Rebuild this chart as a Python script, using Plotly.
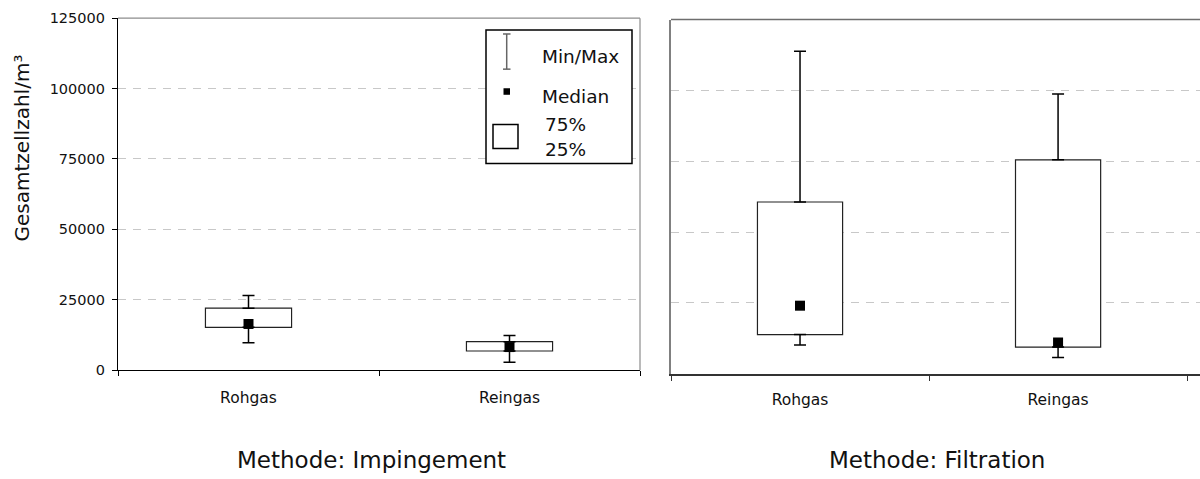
import plotly.graph_objects as go

W, H = 1200, 479

categories = ["Rohgas", "Reingas"]

# Methode: Impingement
imp_min = [9700, 2800]
imp_q1 = [15200, 6800]
imp_median = [16400, 8200]
imp_q3 = [22000, 10100]
imp_max = [26500, 12300]

# Methode: Filtration
fil_min = [10100, 5700]
fil_q1 = [13800, 9400]
fil_median = [24000, 11000]
fil_q3 = [60600, 75500]
fil_max = [113800, 98700]

y_ticks = [0, 25000, 50000, 75000, 100000, 125000]
y_title = "Gesamtzellzahl/m³"
panel_titles = ["Methode: Impingement", "Methode: Filtration"]
legend_labels = ["Min/Max", "Median", "75%", "25%"]

FONT = "DejaVu Sans"

# vertical placement: rows are given from the top edge and spread
# about the middle of the page by ROW_SCALE
ROW_SCALE = 0.9618
MID = H / 2


def px(x):
    return x / W


def py(y):
    row = MID + (y - MID) / ROW_SCALE
    return 1 - row / H


fig = go.Figure()


def add_panel(xa, ya, mins, q1, med, q3, maxs):
    iqr = [b - a for a, b in zip(q1, q3)]
    # interquartile box
    fig.add_trace(go.Bar(
        x=categories, y=iqr, base=q1, width=0.33,
        marker=dict(color="white", line=dict(color="#222222", width=1.2)),
        xaxis=xa, yaxis=ya, showlegend=False, hoverinfo="skip",
    ))
    # upper whisker (Q3 -> max)
    fig.add_trace(go.Scatter(
        x=categories, y=q3, mode="markers",
        marker=dict(color="rgba(0,0,0,0)", size=1),
        error_y=dict(type="data", symmetric=False,
                     array=[m - q for m, q in zip(maxs, q3)],
                     arrayminus=[0] * len(q3),
                     color="black", thickness=1.5, width=6),
        xaxis=xa, yaxis=ya, showlegend=False, hoverinfo="skip",
    ))
    # lower whisker (min -> Q1)
    fig.add_trace(go.Scatter(
        x=categories, y=q1, mode="markers",
        marker=dict(color="rgba(0,0,0,0)", size=1),
        error_y=dict(type="data", symmetric=False,
                     array=[0] * len(q1),
                     arrayminus=[q - m for m, q in zip(mins, q1)],
                     color="black", thickness=1.5, width=6),
        xaxis=xa, yaxis=ya, showlegend=False, hoverinfo="skip",
    ))
    # median
    fig.add_trace(go.Scatter(
        x=categories, y=med, mode="markers",
        marker=dict(symbol="square", size=10, color="black"),
        xaxis=xa, yaxis=ya, showlegend=False, cliponaxis=False,
    ))


add_panel("x", "y", imp_min, imp_q1, imp_median, imp_q3, imp_max)
add_panel("x2", "y2", fil_min, fil_q1, fil_median, fil_q3, fil_max)

grid = dict(showgrid=True, gridcolor="#c8c8c8", griddash="8px,7px", gridwidth=1)
tickfont = dict(family=FONT, size=14.5, color="#111111")
catfont = dict(family=FONT, size=15.5, color="#111111")

fig.update_layout(
    width=W, height=H,
    margin=dict(l=0, r=0, t=0, b=0),
    paper_bgcolor="white", plot_bgcolor="white",
    showlegend=False,
    xaxis=dict(domain=[px(118), px(640)], type="category", range=[-0.5, 1.5],
               showline=True, linecolor="black", linewidth=1.2,
               ticks="outside", ticklen=5, tickcolor="black", tickson="boundaries",
               tickfont=catfont, ticklabelstandoff=13, showgrid=False,
               zeroline=False, fixedrange=True, anchor="y"),
    yaxis=dict(domain=[py(369.5), py(19.3)], range=[0, 125000],
               tickvals=y_ticks, ticktext=[str(v) for v in y_ticks],
               showline=True, linecolor="black", linewidth=1.2,
               ticks="outside", ticklen=5, tickcolor="black",
               tickfont=tickfont, ticklabelstandoff=4,
               zeroline=False, anchor="x", **grid),
    xaxis2=dict(domain=[px(671), 1.0], type="category", range=[-0.5, 1.55],
                showline=True, linecolor="#333333", linewidth=2,
                ticks="outside", ticklen=5, tickcolor="#333333", tickson="boundaries",
                tickfont=catfont, ticklabelstandoff=11, showgrid=False,
                zeroline=False, anchor="y2"),
    yaxis2=dict(domain=[py(373), py(20.7)], range=[0, 125000],
                tickvals=y_ticks, showticklabels=False, ticks="",
                showline=True, linecolor="#808080", linewidth=1.5,
                zeroline=False, anchor="x2", **grid),
)

shapes = []
# panel frames (top / right)
shapes.append(dict(type="line", xref="x domain", yref="y domain",
                   x0=0, x1=1, y0=1, y1=1, line=dict(color="#8c8c8c", width=1.2)))
shapes.append(dict(type="line", xref="x domain", yref="y domain",
                   x0=1, x1=1, y0=0, y1=1, line=dict(color="#8c8c8c", width=1.2)))
shapes.append(dict(type="line", xref="x2 domain", yref="y2 domain",
                   x0=0, x1=1, y0=1, y1=1, line=dict(color="#6e6e6e", width=1.5)))

# legend block
shapes.append(dict(type="rect", xref="paper", yref="paper",
                   x0=px(486), x1=px(632), y0=py(164), y1=py(31),
                   line=dict(color="black", width=1.5), fillcolor="white"))
# min/max glyph
shapes.append(dict(type="line", xref="paper", yref="paper",
                   x0=px(506.7), x1=px(506.7), y0=py(70), y1=py(35),
                   line=dict(color="#666666", width=1.5)))
for yy in (35, 70):
    shapes.append(dict(type="line", xref="paper", yref="paper",
                       x0=px(503), x1=px(510.5), y0=py(yy), y1=py(yy),
                       line=dict(color="#666666", width=1.5)))
# median glyph
shapes.append(dict(type="rect", xref="paper", yref="paper",
                   x0=px(503.5), x1=px(510), y0=py(95.5), y1=py(89),
                   line=dict(width=0), fillcolor="black"))
# quartile box glyph
shapes.append(dict(type="rect", xref="paper", yref="paper",
                   x0=px(493), x1=px(518), y0=py(149), y1=py(125),
                   line=dict(color="black", width=1.5), fillcolor="white"))

annotations = []
legend_pos = [(540, 57), (540, 97), (543, 125), (543, 150)]
for text, (lx, ly) in zip(legend_labels, legend_pos):
    annotations.append(dict(text=text, xref="paper", yref="paper",
                            x=px(lx), y=py(ly), xanchor="left", yanchor="middle",
                            showarrow=False,
                            font=dict(family=FONT, size=18.5, color="#111111")))

annotations.append(dict(text=y_title, xref="paper", yref="paper",
                        x=px(22), y=py(149), xanchor="center", yanchor="middle",
                        textangle=-90, showarrow=False,
                        font=dict(family=FONT, size=20, color="#111111")))

for text, cx in zip(panel_titles, (371.5, 936.5)):
    annotations.append(dict(text=text, xref="paper", yref="paper",
                            x=px(cx), y=py(459), xanchor="center", yanchor="middle",
                            showarrow=False,
                            font=dict(family=FONT, size=23, color="#111111")))

fig.update_layout(shapes=shapes, annotations=annotations)

fig.write_html("out.html", config={"displayModeBar": False})
